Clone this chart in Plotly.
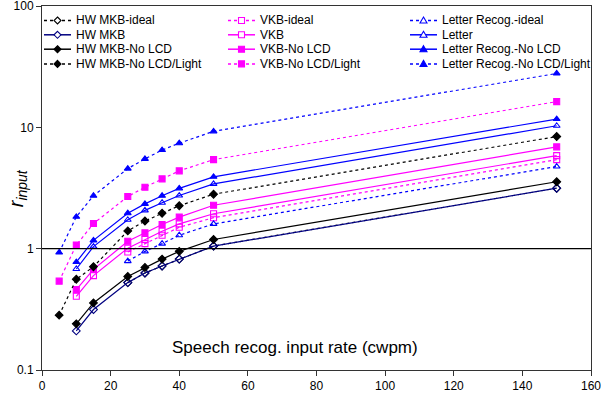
import plotly.graph_objects as go

x_full = [10, 15, 25, 30, 35, 40, 50, 150]
x_light = [5, 10, 15, 25, 30, 35, 40, 50, 150]
x_ideal = [25, 30, 35, 40, 50, 150]

hw_ideal = [0.525, 0.63, 0.72, 0.82, 1.05, 3.15]
hw_mkb = [0.21, 0.315, 0.525, 0.63, 0.72, 0.82, 1.05, 3.15]
hw_nolcd = [0.24, 0.357, 0.59, 0.70, 0.82, 0.95, 1.19, 3.56]
hw_light = [0.283, 0.56, 0.71, 1.40, 1.69, 1.96, 2.26, 2.81, 8.4]

vkb_ideal = [0.94, 1.10, 1.29, 1.50, 1.80, 5.42]
vkb = [0.405, 0.60, 1.01, 1.19, 1.39, 1.60, 1.94, 5.85]
vkb_nolcd = [0.46, 0.675, 1.15, 1.35, 1.58, 1.82, 2.28, 6.9]
vkb_light = [0.54, 1.07, 1.61, 2.69, 3.21, 3.76, 4.38, 5.42, 16.3]

let_ideal = [0.79, 0.95, 1.10, 1.29, 1.60, 4.75]
letter = [0.68, 1.04, 1.73, 2.07, 2.39, 2.74, 3.42, 10.3]
let_nolcd = [0.776, 1.17, 1.96, 2.34, 2.73, 3.14, 3.91, 11.7]
let_light = [0.93, 1.83, 2.73, 4.57, 5.5, 6.5, 7.4, 9.27, 27.8]

y_ticks = [0.1, 1, 10, 100]
y_tick_labels = ["0.1", "1", "10", "100"]
x_ticks = [0, 20, 40, 60, 80, 100, 120, 140, 160]

BLACK = "#000000"
NAVY = "#000080"
MAG = "#FF00FF"
BLUE = "#0000FF"

series = [
    ("HW MKB-ideal", x_ideal, hw_ideal, BLACK, BLACK, "dot", "diamond-open"),
    ("VKB-ideal", x_ideal, vkb_ideal, MAG, MAG, "dot", "square-open"),
    ("Letter Recog.-ideal", x_ideal, let_ideal, BLUE, BLUE, "dot", "triangle-up-open"),
    ("HW MKB", x_full, hw_mkb, NAVY, NAVY, "solid", "diamond-open"),
    ("VKB", x_full, vkb, MAG, MAG, "solid", "square-open"),
    ("Letter", x_full, letter, BLUE, BLUE, "solid", "triangle-up-open"),
    ("HW MKB-No LCD", x_full, hw_nolcd, BLACK, BLACK, "solid", "diamond"),
    ("VKB-No LCD", x_full, vkb_nolcd, MAG, MAG, "solid", "square"),
    ("Letter Recog.-No LCD", x_full, let_nolcd, BLUE, BLUE, "solid", "triangle-up"),
    ("HW MKB-No LCD/Light", x_light, hw_light, BLACK, BLACK, "dot", "diamond"),
    ("VKB-No LCD/Light", x_light, vkb_light, MAG, MAG, "dot", "square"),
    ("Letter Recog.-No LCD/Light", x_light, let_light, BLUE, BLUE, "dot", "triangle-up"),
]

W, H = 601, 404
ML, MR, MT, MB = 42, 10, 6, 34
PW, PH = W - ML - MR, H - MT - MB

fig = go.Figure()
for name, xs, ys, lc, mc, dash, sym in series:
    fig.add_trace(go.Scatter(
        x=xs, y=ys, name=name, mode="lines+markers", showlegend=False,
        line=dict(color=lc, width=1.2, dash=dash),
        marker=dict(symbol=sym, color=mc, size=6, line=dict(color=mc, width=1.1)),
    ))

fig.add_hline(y=1, line=dict(color="black", width=1.2))

# Legend drawn compactly (3 columns x 4 rows), as in the reference
col_line_x = [44, 228, 410]
row_y = [20.5, 34.8, 49.2, 63.9]
seg_len = 27
glyph_paths = {
    "diamond": "M0,3.5 L3.5,0 L0,-3.5 L-3.5,0 Z",
    "square": "M-3,-3 L3,-3 L3,3 L-3,3 Z",
    "triangle-up": "M0,3.5 L3.5,-2.5 L-3.5,-2.5 Z",
}


def px_to_paper_x(px):
    return (px - ML) / PW


def px_to_paper_y(py):
    return 1 - (py - MT) / PH


for i, (name, xs, ys, lc, mc, dash, sym) in enumerate(series):
    row, col = divmod(i, 3)
    x0 = col_line_x[col]
    yy = px_to_paper_y(row_y[row])
    fig.add_shape(type="line", xref="paper", yref="paper",
                  x0=px_to_paper_x(x0), x1=px_to_paper_x(x0 + seg_len), y0=yy, y1=yy,
                  line=dict(color=lc, width=1.5, dash=dash))
    base = sym.replace("-open", "")
    is_open = sym.endswith("-open")
    fig.add_shape(type="path", xref="paper", yref="paper",
                  xsizemode="pixel", ysizemode="pixel",
                  xanchor=px_to_paper_x(x0 + seg_len / 2), yanchor=yy,
                  path=glyph_paths[base],
                  fillcolor="white" if is_open else mc,
                  line=dict(color=mc, width=1.1))
    fig.add_annotation(x=px_to_paper_x(x0 + seg_len + 3), y=yy, xref="paper", yref="paper",
                       xanchor="left", yanchor="middle", text=name, showarrow=False,
                       font=dict(family="Liberation Sans, Arial", size=12, color="black"))

fig.add_annotation(
    x=0.46, y=0.063, xref="paper", yref="paper", xanchor="center", yanchor="middle",
    text="Speech recog. input rate (cwpm)", showarrow=False,
    font=dict(family="Liberation Sans, Arial", size=17, color="black"),
)
fig.add_annotation(
    x=-0.045, y=0.5, xref="paper", yref="paper", xanchor="center", yanchor="middle",
    text="<i>r</i><sub><i>input</i></sub>", showarrow=False, textangle=-90,
    font=dict(family="Liberation Sans, Arial", size=20, color="black"),
)

fig.update_layout(
    width=W, height=H,
    margin=dict(l=ML, r=MR, t=MT, b=MB),
    paper_bgcolor="white", plot_bgcolor="white",
    font=dict(family="Liberation Sans, Arial", size=12, color="black"),
    showlegend=False,
    xaxis=dict(
        range=[0, 160], tickvals=x_ticks, showgrid=False, zeroline=False,
        showline=True, linecolor="#333333", linewidth=1, mirror=True,
        ticks="outside", ticklen=5, tickcolor="#333333", automargin=False,
        ticklabeloverflow="allow",
        tickfont=dict(size=12, color="black"),
    ),
    yaxis=dict(
        type="log", range=[-1, 2], tickvals=y_ticks, ticktext=y_tick_labels,
        showgrid=False, zeroline=False,
        showline=True, linecolor="#333333", linewidth=1, mirror=True,
        ticks="outside", ticklen=5, tickcolor="#333333", automargin=False,
        ticklabeloverflow="allow",
        tickfont=dict(size=12, color="black"),
    ),
)

fig.write_html("out.html", config={"displayModeBar": False},
               post_script="document.body.style.margin='0';")
